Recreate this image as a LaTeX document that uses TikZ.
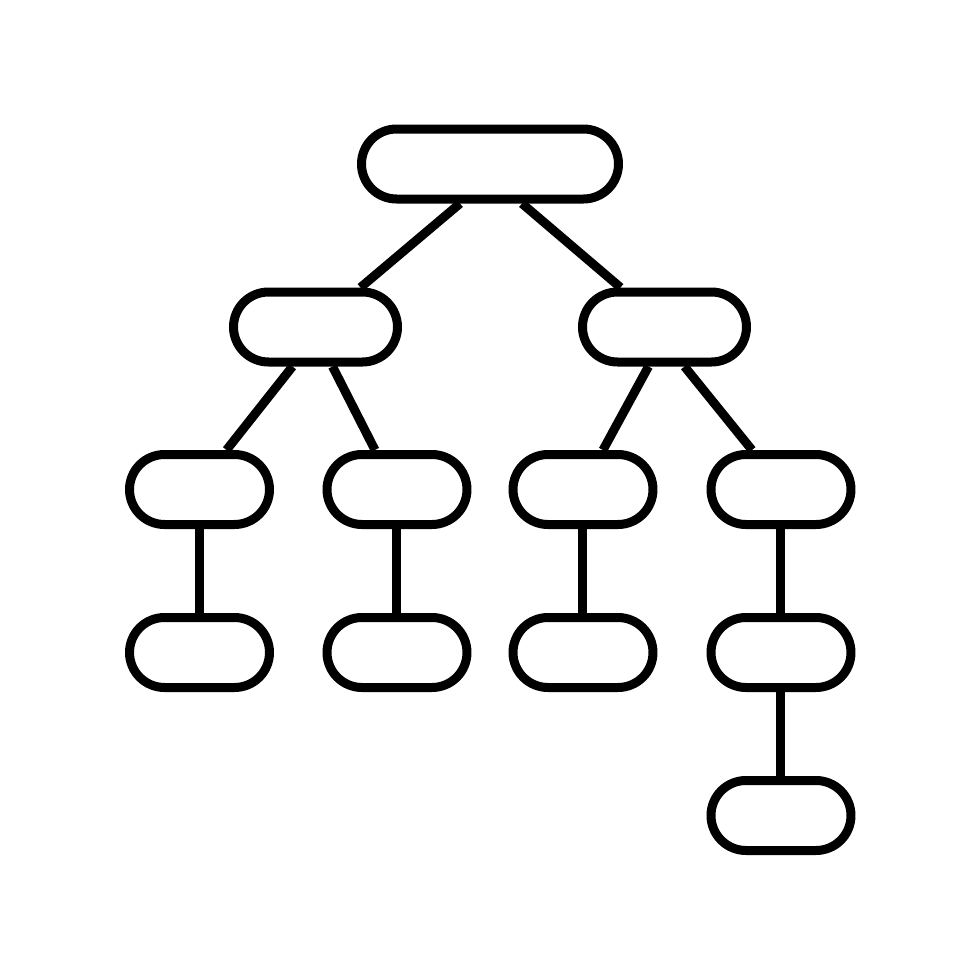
\documentclass[tikz,border=0pt]{standalone}
\begin{document}
\begin{tikzpicture}[
        box/.style={draw, line width=0.9mm, rounded corners=3.5mm, inner sep=0pt, minimum height=0.7cm},
        every path/.style={line width=0.9mm}
    ]
            \useasboundingbox (0,0) rectangle (9.8,9.8);

            \node[box, minimum width=2.57cm] (T) at (4.9,8.16) {};
            \node[box, minimum width=1.64cm] (A) at (3.155,6.53) {};
            \node[box, minimum width=1.64cm] (B) at (6.645,6.53) {};
            \node[box, minimum width=1.4cm] (Aa) at (1.995,4.905) {};
            \node[box, minimum width=1.4cm] (Ab) at (3.97,4.905) {};
            \node[box, minimum width=1.4cm] (Ba) at (5.83,4.905) {};
            \node[box, minimum width=1.4cm] (Bb) at (7.81,4.905) {};
            \node[box, minimum width=1.4cm] (Aap) at (1.995,3.275) {};
            \node[box, minimum width=1.4cm] (Abp) at (3.97,3.275) {};
            \node[box, minimum width=1.4cm] (Bap) at (5.83,3.275) {};
            \node[box, minimum width=1.4cm] (Bbp) at (7.81,3.275) {};
            \node[box, minimum width=1.4cm] (Bbpp) at (7.81,1.645) {};

            \draw ([xshift=-3mm]T.south) to ([xshift=4.5mm]A.north);
            \draw ([xshift=3.2mm]T.south) to ([xshift=-4.4mm]B.north);
            \draw ([xshift=-2.3mm]A.south) to ([xshift=2.7mm]Aa.north);
            \draw ([xshift=1.7mm]A.south) to ([xshift=-2.2mm]Ab.north);
            \draw ([xshift=-1.6mm]B.south) to ([xshift=2mm]Ba.north);
            \draw ([xshift=2mm]B.south) to ([xshift=-2.9mm]Bb.north);
            \draw (Aa) to (Aap);
            \draw (Ab) to (Abp);
            \draw (Ba) to (Bap);
            \draw (Bb) to (Bbp);
            \draw (Bbp) to (Bbpp);
        \end{tikzpicture}
\end{document}
